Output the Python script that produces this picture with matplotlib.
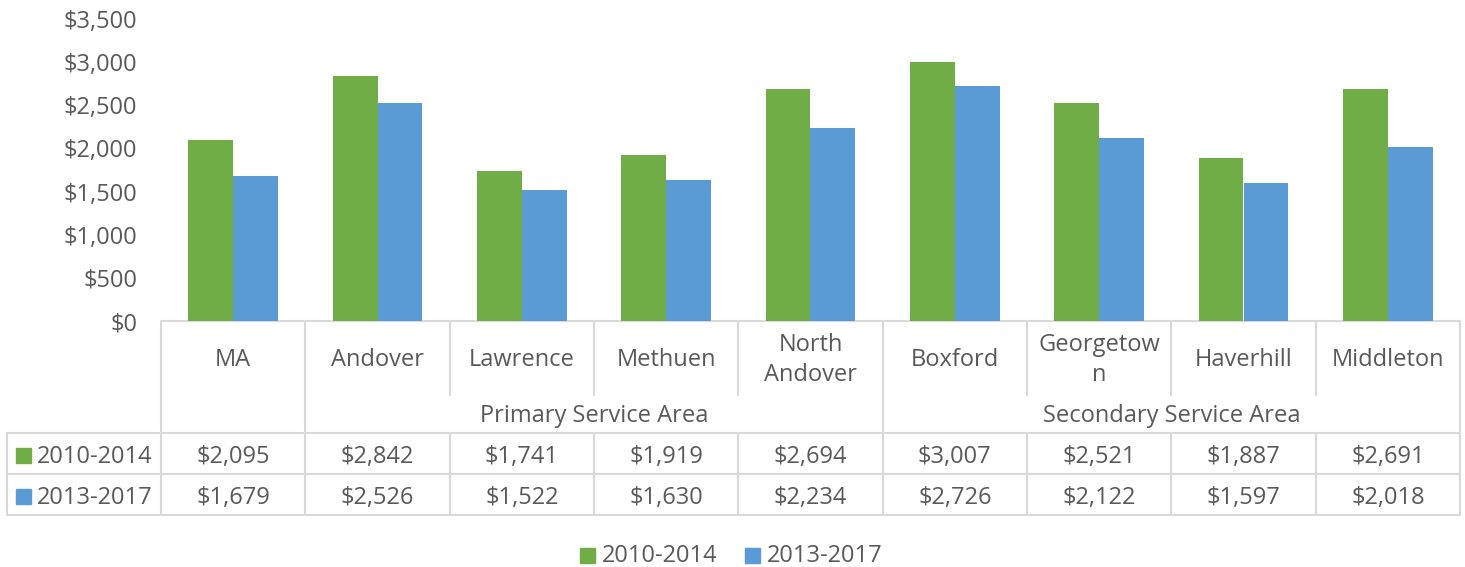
import matplotlib.pyplot as plt
from matplotlib.patches import Rectangle

places = ['MA', 'Andover', 'Lawrence', 'Methuen', 'North\nAndover', 'Boxford',
          'Georgetow\nn', 'Haverhill', 'Middleton']
groups = ['Primary Service Area', 'Secondary Service Area']
group_cols = [(1, 5), (5, 9)]   # column index ranges covered by each group
series = ['2010-2014', '2013-2017']
vals_1014 = [2095, 2842, 1741, 1919, 2694, 3007, 2521, 1887, 2691]
vals_1317 = [1679, 2526, 1522, 1630, 2234, 2726, 2122, 1597, 2018]
yticks = [0, 500, 1000, 1500, 2000, 2500, 3000, 3500]

green = '#70AD47'
blue = '#5B9BD5'
txt = '#595959'
grid = '#D9D9D9'
plt.rcParams['font.family'] = ['Open Sans', 'DejaVu Sans']
fs = 17

W, H = 1465, 567
L, R, T, B = 161, 1460, 19, 321

fig = plt.figure(figsize=(W / 100, H / 100), dpi=100)

# pixel-space overlay for the data table
ov = fig.add_axes([0, 0, 1, 1])
ov.set_xlim(0, W)
ov.set_ylim(H, 0)
ov.axis('off')

ax = fig.add_axes([L / W, 1 - B / H, (R - L) / W, (B - T) / H])
ax.patch.set_visible(False)
n = len(places)
w = 0.31
xs = list(range(n))
ax.bar([x - w / 2 for x in xs], vals_1014, w, color=green, label=series[0])
ax.bar([x + w / 2 for x in xs], vals_1317, w, color=blue, label=series[1])
ax.set_xlim(-0.5, n - 0.5)
ax.set_ylim(0, 3500)
ax.set_yticks(yticks)
ax.set_yticklabels(['$' + format(v, ',') for v in yticks], fontsize=fs, color=txt)
ax.set_xticks([])
ax.tick_params(length=0, pad=17)
for s in ax.spines.values():
    s.set_visible(False)

# table grid
cw = (R - L) / n
cx = [L + k * cw for k in range(n + 1)]
y_cat, y_grp, y_r1, y_r2 = 395, 433, 474, 515
lw = 1.5
ov.plot([L, R], [B, B], color=grid, lw=lw)
for yy in (y_grp, y_r1, y_r2):
    ov.plot([7, R], [yy, yy], color=grid, lw=lw)
ov.plot([7, 7], [y_grp, y_r2], color=grid, lw=lw)
for k in range(n + 1):
    if k in (0, 1, 5, n):
        ov.plot([cx[k], cx[k]], [B, y_r2], color=grid, lw=lw)
    else:
        ov.plot([cx[k], cx[k]], [B, y_cat], color=grid, lw=lw)
        ov.plot([cx[k], cx[k]], [y_grp, y_r2], color=grid, lw=lw)

for i, p in enumerate(places):
    ov.text(cx[i] + cw / 2, 360, p, ha='center', va='center', fontsize=fs,
            color=txt, linespacing=1.3)
for g, (a, b) in zip(groups, group_cols):
    ov.text((cx[a] + cx[b]) / 2, 416, g, ha='center', va='center', fontsize=fs, color=txt)

for vals, col, name, yc in [(vals_1014, green, series[0], 455),
                            (vals_1317, blue, series[1], 496)]:
    ov.add_patch(Rectangle((16, yc - 7), 15, 15, color=col))
    ov.text(37, yc + 2, name, ha='left', va='center', fontsize=fs, color=txt)
    for i, v in enumerate(vals):
        ov.text(cx[i] + cw / 2, yc + 2, '$' + format(v, ','), ha='center', va='center',
                fontsize=fs, color=txt)

# legend
for x0, col, name in [(580, green, series[0]), (745, blue, series[1])]:
    ov.add_patch(Rectangle((x0, 548), 15, 15, color=col))
    ov.text(x0 + 22, 556, name, ha='left', va='center', fontsize=fs, color=txt)

fig.savefig('out.png', dpi=100)
